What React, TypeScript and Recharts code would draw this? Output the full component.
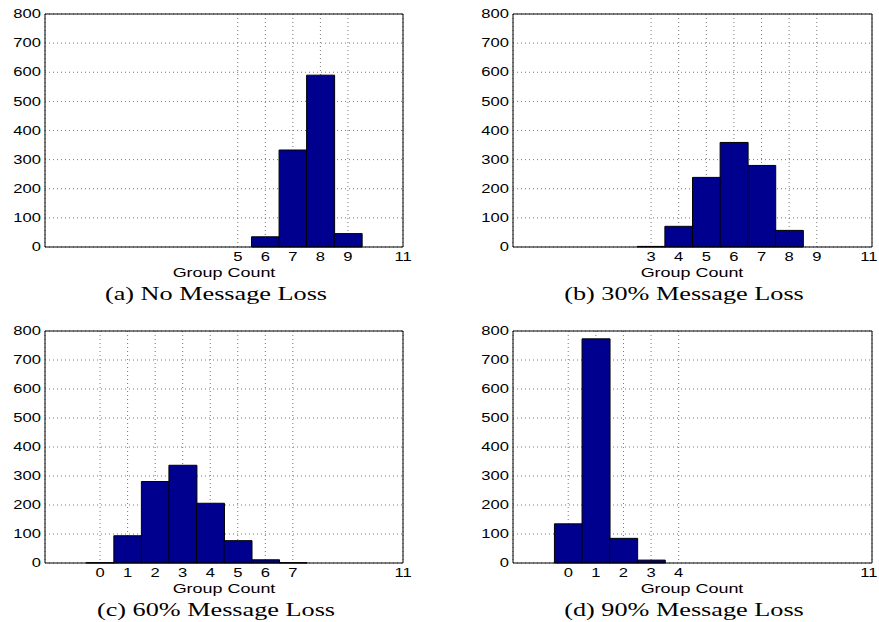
import React from "react";
import {
  BarChart,
  Bar,
  XAxis,
  YAxis,
  CartesianGrid,
  ReferenceLine,
} from "recharts";

// histogram bins (group count) and how many runs fell in each
const groupsA = [5, 6, 7, 8, 9];
const countsA = [0, 35, 333, 590, 46];
const ticksA = [5, 6, 7, 8, 9, 11];

const groupsB = [3, 4, 5, 6, 7, 8, 9];
const countsB = [2, 71, 239, 359, 280, 57, 0];
const ticksB = [3, 4, 5, 6, 7, 8, 9, 11];

const groupsC = [0, 1, 2, 3, 4, 5, 6, 7];
const countsC = [1, 94, 281, 337, 206, 77, 11, 1];
const ticksC = [0, 1, 2, 3, 4, 5, 6, 7, 11];

const groupsD = [0, 1, 2, 3, 4];
const countsD = [135, 773, 85, 10, 0];
const ticksD = [0, 1, 2, 3, 4, 11];

const yTicks = [0, 100, 200, 300, 400, 500, 600, 700, 800];

const BAR_FILL = "#00008F";
const SANS = "'Liberation Sans', Arial, sans-serif";
const SERIF = "'Liberation Serif', 'Times New Roman', serif";
const STRETCH = 1.38;

const toRows = (groups: number[], counts: number[]) =>
  groups.map((g, i) => ({ group: g, count: counts[i] }));

const XTick = (props: any) => {
  const { x, y, payload, maxRight } = props;
  // keep the last label inside the page
  const half = (String(payload.value).length * 0.556 * 12 * STRETCH) / 2;
  const cx = maxRight && x + half > maxRight ? maxRight - half : x;
  return (
    <text
      transform={`translate(${cx},${y}) scale(${STRETCH},1)`}
      textAnchor="middle"
      dy="0.35em"
      fontSize={12}
      fontFamily={SANS}
      fill="#000"
    >
      {payload.value}
    </text>
  );
};

const YTick = (props: any) => {
  const { x, y, payload } = props;
  return (
    <text
      transform={`translate(${x},${y}) scale(${STRETCH},1)`}
      textAnchor="end"
      dy="0.35em"
      fontSize={12}
      fontFamily={SANS}
      fill="#000"
    >
      {payload.value}
    </text>
  );
};

const Text = ({
  cx,
  cy,
  size,
  family,
  children,
}: {
  cx: number;
  cy: number;
  size: number;
  family: string;
  children: React.ReactNode;
}) => (
  <div
    style={{
      position: "absolute",
      left: cx,
      top: cy,
      transform: `translate(-50%, -50%) scaleX(${STRETCH})`,
      fontSize: size,
      fontFamily: family,
      lineHeight: 1,
      whiteSpace: "nowrap",
      color: "#000",
    }}
  >
    {children}
  </div>
);

function Panel({
  left,
  top,
  marginLeft,
  marginRight,
  marginTop,
  marginBottom,
  groups,
  counts,
  ticks,
}: {
  left: number;
  top: number;
  marginLeft: number;
  marginRight: number;
  marginTop: number;
  marginBottom: number;
  groups: number[];
  counts: number[];
  ticks: number[];
}) {
  return (
    <div style={{ position: "absolute", left, top }}>
      <BarChart
        width={439}
        height={300}
        data={toRows(groups, counts)}
        margin={{ top: marginTop, right: marginRight, bottom: marginBottom, left: marginLeft }}
        barCategoryGap={0}
        barGap={0}
      >
        <CartesianGrid stroke="#777" strokeDasharray="1 3" />
        <XAxis
          dataKey="group"
          type="number"
          domain={[-2, 11]}
          ticks={ticks}
          interval={0}
          height={30}
          tickSize={0}
          tickMargin={10}
          tickLine={false}
          axisLine={{ stroke: "#000" }}
          tick={<XTick maxRight={438} />}
        />
        <YAxis
          type="number"
          domain={[0, 800]}
          ticks={yTicks}
          interval={0}
          width={45}
          tickSize={0}
          tickMargin={4}
          tickLine={false}
          axisLine={{ stroke: "#000" }}
          tick={<YTick />}
        />
        <ReferenceLine y={800} stroke="#000" />
        <ReferenceLine x={11} stroke="#000" />
        <Bar
          dataKey="count"
          fill={BAR_FILL}
          stroke="#000"
          strokeWidth={1}
          isAnimationActive={false}
        />
      </BarChart>
    </div>
  );
}

export default function App() {
  return (
    <div
      style={{
        position: "absolute",
        left: 0,
        top: 0,
        width: 879,
        height: 622,
        background: "#fff",
        overflow: "hidden",
      }}
    >
      <Panel left={0} top={0} marginLeft={0} marginRight={36} marginTop={14} marginBottom={23}
        groups={groupsA} counts={countsA} ticks={ticksA} />
      <Panel left={440} top={0} marginLeft={28} marginRight={7} marginTop={14} marginBottom={23}
        groups={groupsB} counts={countsB} ticks={ticksB} />
      <Panel left={0} top={310} marginLeft={0} marginRight={36} marginTop={21} marginBottom={17}
        groups={groupsC} counts={countsC} ticks={ticksC} />
      <Panel left={440} top={310} marginLeft={28} marginRight={7} marginTop={21} marginBottom={17}
        groups={groupsD} counts={countsD} ticks={ticksD} />

      <Text cx={224} cy={272} size={13} family={SANS}>Group Count</Text>
      <Text cx={692} cy={272} size={13} family={SANS}>Group Count</Text>
      <Text cx={224} cy={588} size={13} family={SANS}>Group Count</Text>
      <Text cx={692} cy={588} size={13} family={SANS}>Group Count</Text>

      <Text cx={216} cy={293} size={19} family={SERIF}>(a) No Message Loss</Text>
      <Text cx={684} cy={293} size={19} family={SERIF}>(b) 30% Message Loss</Text>
      <Text cx={216} cy={609} size={19} family={SERIF}>(c) 60% Message Loss</Text>
      <Text cx={684} cy={609} size={19} family={SERIF}>(d) 90% Message Loss</Text>
    </div>
  );
}
